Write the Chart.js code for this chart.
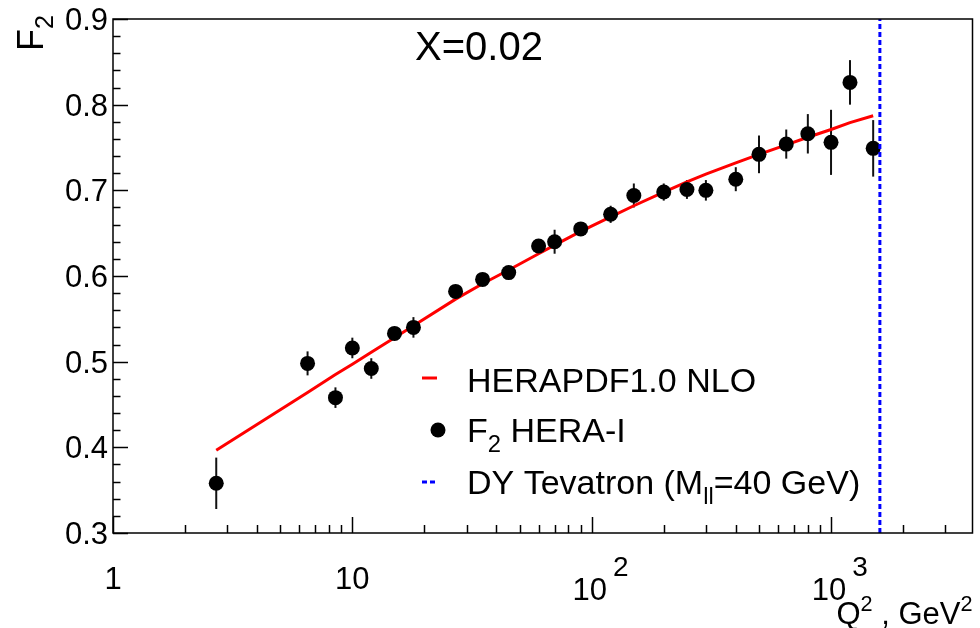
<!DOCTYPE html>
<html>
<head>
<meta charset="utf-8">
<script src="https://cdn.jsdelivr.net/npm/chart.js@4.4.1/dist/chart.umd.min.js"></script>
<style>
  html, body { margin: 0; padding: 0; background: #fff; overflow: hidden; }
  #wrap { width: 980px; height: 628px; }
</style>
</head>
<body>
<div id="wrap"><canvas id="f2Chart" width="980" height="628"></canvas></div>
<script>
// --- DATA: F2 at x = 0.02 ---
const q2Values = [2.7, 6.5, 8.5, 10, 12, 15, 18, 27, 35, 45, 60, 70, 90, 120, 150,
  200, 250, 300, 400, 500, 650, 800, 1000, 1200, 1500];
const f2Hera = [0.358, 0.498, 0.458, 0.516, 0.492, 0.533, 0.540, 0.582, 0.596, 0.604,
  0.635, 0.640, 0.655, 0.672, 0.694, 0.698, 0.701, 0.700, 0.713, 0.742, 0.754, 0.766,
  0.756, 0.826, 0.749];
const f2Errors = [0.030, 0.014, 0.012, 0.012, 0.012, 0.007, 0.012, 0.006, 0.006, 0.006,
  0.006, 0.014, 0.006, 0.010, 0.014, 0.010, 0.011, 0.012, 0.014, 0.022, 0.017, 0.023,
  0.038, 0.026, 0.033];
const f2Herapdf = [0.3965, 0.464, 0.485, 0.497, 0.511, 0.528, 0.542, 0.573, 0.591, 0.607,
  0.626, 0.636, 0.652, 0.669, 0.682, 0.698, 0.710, 0.719, 0.732, 0.742, 0.753, 0.762,
  0.771, 0.779, 0.787];
const dyTevatronQ2 = 1600; // M_ll = 40 GeV

const yMajorTicks = [0.3, 0.4, 0.5, 0.6, 0.7, 0.8, 0.9];
const yTickLabels = ["0.3", "0.4", "0.5", "0.6", "0.7", "0.8", "0.9"];
const xMajorTicks = [1, 10, 100, 1000];
const xTickExponents = [null, null, "2", "3"];
const xTickBases = ["1", "10", "10", "10"];

const FONT = '"Liberation Sans", Arial, Helvetica, sans-serif';

// draw a string made of pieces: {t, sub, sup}
function drawRich(ctx, parts, x, y, size) {
  let cx = x;
  parts.forEach(p => {
    const s = p.sub || p.sup ? size * 0.7 : size;
    ctx.font = `${s}px ${FONT}`;
    const dy = p.sub ? size * 0.28 : p.sup ? -size * 0.42 : 0;
    ctx.fillText(p.t, cx, y + dy);
    cx += ctx.measureText(p.t).width;
  });
  return cx - x;
}
function richWidth(ctx, parts, size) {
  let w = 0;
  parts.forEach(p => {
    const s = p.sub || p.sup ? size * 0.7 : size;
    ctx.font = `${s}px ${FONT}`;
    w += ctx.measureText(p.t).width;
  });
  return w;
}

// --- FRAME, TICKS, ERROR BARS, LEGEND ---
const rootStyle = {
  id: "rootStyle",
  beforeDatasetsDraw(chart) {
    const { ctx, scales: { x, y } } = chart;
    ctx.save();
    ctx.strokeStyle = "#111";
    ctx.lineWidth = 2;
    q2Values.forEach((q, i) => {
      const px = x.getPixelForValue(q);
      ctx.beginPath();
      ctx.moveTo(px, y.getPixelForValue(f2Hera[i] - f2Errors[i]));
      ctx.lineTo(px, y.getPixelForValue(f2Hera[i] + f2Errors[i]));
      ctx.stroke();
    });
    ctx.restore();
  },
  afterDraw(chart) {
    const { ctx, chartArea: a, scales: { x, y } } = chart;
    ctx.save();
    ctx.strokeStyle = "#000";
    ctx.fillStyle = "#000";

    // frame
    ctx.lineWidth = 1.5;
    ctx.strokeRect(a.left, a.top, a.right - a.left, a.bottom - a.top);

    // y ticks (inward)
    for (let v = 0.3; v <= 0.9001; v += 0.02) {
      const py = Math.round(y.getPixelForValue(v)) + 0.5;
      const major = Math.abs(v * 10 - Math.round(v * 10)) < 1e-6;
      ctx.beginPath();
      ctx.moveTo(a.left, py);
      ctx.lineTo(a.left + (major ? 15 : 7.5), py);
      ctx.stroke();
    }
    // x ticks (inward)
    for (let d = 1; d <= 1000; d *= 10) {
      for (let m = 1; m <= 9; m++) {
        const v = d * m;
        if (v > x.max) break;
        const px = Math.round(x.getPixelForValue(v)) + 0.5;
        ctx.beginPath();
        ctx.moveTo(px, a.bottom);
        ctx.lineTo(px, a.bottom - (m === 1 ? 16 : 8));
        ctx.stroke();
      }
    }

    // y tick labels
    ctx.textBaseline = "alphabetic";
    ctx.textAlign = "right";
    ctx.font = `31px ${FONT}`;
    yMajorTicks.forEach((v, i) => {
      ctx.fillText(yTickLabels[i], a.left - 5, y.getPixelForValue(v) + 11);
    });

    // x tick labels
    ctx.textAlign = "left";
    xMajorTicks.forEach((v, i) => {
      const px = x.getPixelForValue(v);
      ctx.font = `31px ${FONT}`;
      const bw = ctx.measureText(xTickBases[i]).width;
      if (xTickExponents[i]) {
        ctx.fillText(xTickBases[i], px - bw / 2 - 2, 600);
        ctx.font = `28px ${FONT}`;
        ctx.fillText(xTickExponents[i], px + bw / 2 + 4, 576);
      } else {
        ctx.fillText(xTickBases[i], px - bw / 2, 589);
      }
    });

    // x axis title
    const xTitle = [{ t: "Q" }, { t: "2", sup: true }, { t: " , GeV" }, { t: "2", sup: true }];
    const xw = richWidth(ctx, xTitle, 31);
    drawRich(ctx, xTitle, a.right - xw, 624, 31);

    // y axis title (rotated)
    ctx.save();
    ctx.translate(43, 51);
    ctx.rotate(-Math.PI / 2);
    drawRich(ctx, [{ t: "F" }, { t: "2", sub: true }], 0, 0, 36);
    ctx.restore();

    // bin label
    ctx.font = `40px ${FONT}`;
    ctx.fillText("X=0.02", 415, 60);

    // legend
    const lx = 422, tx = 467;
    ctx.strokeStyle = "#ff0000";
    ctx.lineWidth = 3;
    ctx.beginPath(); ctx.moveTo(lx, 378); ctx.lineTo(lx + 15, 378); ctx.stroke();
    ctx.fillStyle = "#000";
    drawRich(ctx, [{ t: "HERAPDF1.0 NLO" }], tx, 392, 34);

    ctx.beginPath(); ctx.arc(438, 430, 7.5, 0, Math.PI * 2); ctx.fill();
    drawRich(ctx, [{ t: "F" }, { t: "2", sub: true }, { t: " HERA-I" }], tx, 442, 34);

    ctx.strokeStyle = "#0000ff";
    ctx.setLineDash([5, 3]);
    ctx.beginPath(); ctx.moveTo(lx, 482); ctx.lineTo(lx + 16, 482); ctx.stroke();
    ctx.setLineDash([]);
    drawRich(ctx, [{ t: "DY Tevatron (M" }, { t: "ll", sub: true }, { t: "=40 GeV)" }], tx, 494, 34);

    ctx.restore();
  }
};

new Chart(document.getElementById("f2Chart"), {
  type: "scatter",
  data: {
    datasets: [
      {
        type: "line",
        label: "HERAPDF1.0 NLO",
        data: q2Values.map((q, i) => ({ x: q, y: f2Herapdf[i] })),
        borderColor: "#ff0000",
        borderWidth: 3,
        pointRadius: 0,
        tension: 0,
        fill: false,
        order: 2,
      },
      {
        label: "F2 HERA-I",
        data: q2Values.map((q, i) => ({ x: q, y: f2Hera[i] })),
        backgroundColor: "#000",
        borderColor: "#000",
        pointRadius: 7.5,
        pointBorderWidth: 0,
        order: 1,
      },
      {
        type: "line",
        label: "DY Tevatron",
        data: [{ x: dyTevatronQ2, y: 0.3 }, { x: dyTevatronQ2, y: 0.9 }],
        borderColor: "#0000ff",
        borderWidth: 3,
        borderDash: [5, 3],
        pointRadius: 0,
        fill: false,
        order: 0,
      },
    ],
  },
  options: {
    responsive: false,
    animation: false,
    devicePixelRatio: 1,
    layout: { padding: { left: 113, right: 3, top: 19, bottom: 95 } },
    plugins: { legend: { display: false }, tooltip: { enabled: false } },
    scales: {
      x: { type: "logarithmic", min: 1, max: 3900, display: false },
      y: { type: "linear", min: 0.3, max: 0.9, display: false },
    },
  },
  plugins: [rootStyle],
});
</script>
</body>
</html>
